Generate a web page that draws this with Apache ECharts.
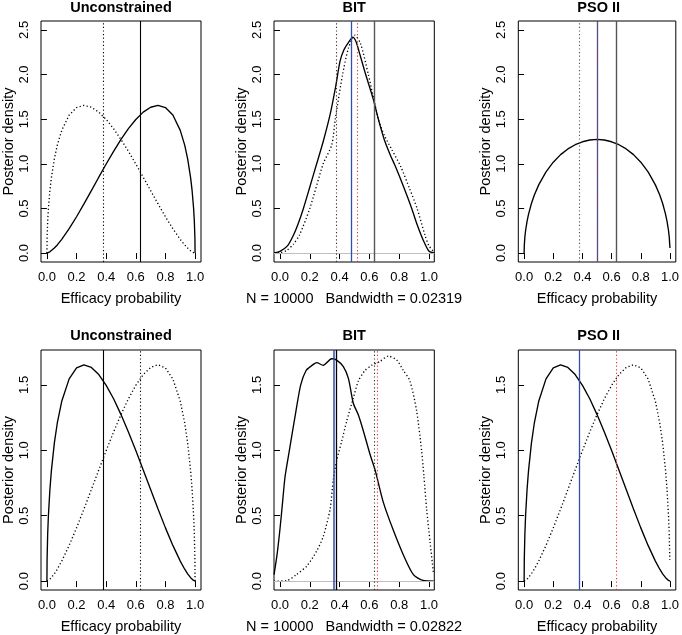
<!DOCTYPE html>
<html>
<head>
<meta charset="utf-8">
<script src="https://cdn.jsdelivr.net/npm/echarts@6/dist/echarts.min.js"></script>
<style>
html,body{margin:0;padding:0;background:#fff;}
#chart{width:682px;height:635px;}
</style>
</head>
<body>
<div id="chart"></div>
<script>
// ---------------- data ----------------
const panelTitles = ['Unconstrained', 'BIT', 'PSO II', 'Unconstrained', 'BIT', 'PSO II'];
const xAxisTitle = 'Efficacy probability';
const yAxisTitle = 'Posterior density';
const bitNotes = ['N = 10000   Bandwidth = 0.02319', 'N = 10000   Bandwidth = 0.02822'];
const xTicks = [0, 0.2, 0.4, 0.6, 0.8, 1.0];
const yTicksTop = [0, 0.5, 1.0, 1.5, 2.0, 2.5];
const yTicksBottom = [0, 0.5, 1.0, 1.5];

// posterior curves
const xBeta = [0, 0.001, 0.005, 0.01, 0.02, 0.03, 0.05, 0.07, 0.1, 0.15, 0.2, 0.25, 0.3, 0.35, 0.4, 0.45, 0.5,
  0.55, 0.6, 0.65, 0.7, 0.75, 0.8, 0.85, 0.9, 0.93, 0.95, 0.97, 0.98, 0.99, 0.995, 0.999, 1];
const densPeakHigh = [0, 0.000, 0.002, 0.005, 0.014, 0.026, 0.056, 0.091, 0.153, 0.273, 0.407, 0.551, 0.700, 0.850, 0.998, 1.140, 1.273,
  1.394, 1.497, 1.579, 1.634, 1.654, 1.630, 1.546, 1.375, 1.209, 1.055, 0.843, 0.699, 0.502, 0.357, 0.161, 0];
const densPeakLow = [0, 0.161, 0.357, 0.502, 0.699, 0.843, 1.055, 1.209, 1.375, 1.546, 1.630, 1.654, 1.634, 1.579, 1.497, 1.394, 1.273,
  1.140, 0.998, 0.850, 0.700, 0.551, 0.407, 0.273, 0.153, 0.091, 0.056, 0.026, 0.014, 0.005, 0.002, 0.000, 0];
const densSym = [0, 0.081, 0.180, 0.253, 0.356, 0.434, 0.555, 0.650, 0.764, 0.909, 1.018, 1.103, 1.167, 1.214, 1.247, 1.267, 1.273,
  1.267, 1.247, 1.214, 1.167, 1.103, 1.018, 0.909, 0.764, 0.650, 0.555, 0.434, 0.356, 0.253, 0.180, 0.081, 0.056];

// BIT kernel density estimates, top row
const xBitTopSolid = [-0.04, 0.0, 0.05, 0.09, 0.12, 0.157, 0.2, 0.246, 0.29, 0.336, 0.375, 0.403, 0.43, 0.46, 0.488,
  0.51, 0.537, 0.575, 0.625, 0.66, 0.7, 0.74, 0.772, 0.83, 0.884, 0.92, 0.96, 1.0, 1.035];
const bitTopSolid = [0.002, 0.02, 0.08, 0.2, 0.32, 0.5, 0.74, 1.0, 1.25, 1.55, 1.88, 2.15, 2.28, 2.36, 2.42,
  2.37, 2.22, 2.0, 1.73, 1.5, 1.27, 1.1, 0.98, 0.74, 0.5, 0.32, 0.15, 0.02, 0.002];
const xBitTopDotted = [-0.04, 0.0, 0.045, 0.09, 0.13, 0.2, 0.29, 0.347, 0.371, 0.42, 0.46, 0.503,
  0.54, 0.593, 0.66, 0.70, 0.75, 0.81, 0.87, 0.92, 0.973, 1.0, 1.035];
const bitTopDotted = [0.0, 0.005, 0.03, 0.1, 0.2, 0.5, 1.0, 1.21, 1.5, 2.0, 2.3, 2.44,
  2.35, 2.0, 1.5, 1.32, 1.16, 0.97, 0.72, 0.5, 0.2, 0.08, 0.01];

// BIT kernel density estimates, bottom row
const xBitBottomSolid = [-0.04, -0.02, 0.0, 0.017, 0.034, 0.063, 0.107, 0.139, 0.175, 0.21, 0.246, 0.29, 0.347, 0.38,
  0.425, 0.459, 0.492, 0.526, 0.559, 0.604, 0.638, 0.694, 0.76, 0.828, 0.895, 0.96, 1.035];
const bitBottomSolid = [0.05, 0.2, 0.4, 0.6, 0.8, 1.0, 1.3, 1.5, 1.61, 1.645, 1.67, 1.65, 1.70, 1.69,
  1.64, 1.55, 1.36, 1.27, 1.15, 0.97, 0.85, 0.6, 0.39, 0.2, 0.05, 0.005, 0.0];
const xBitBottomDotted = [-0.04, 0.045, 0.11, 0.18, 0.246, 0.29, 0.336, 0.358, 0.38, 0.414, 0.447, 0.492, 0.526,
  0.57, 0.615, 0.671, 0.727, 0.783, 0.828, 0.872, 0.917, 0.95, 0.966, 0.984, 1.007, 1.03];
const bitBottomDotted = [0.0, 0.003, 0.05, 0.115, 0.23, 0.34, 0.55, 0.78, 0.92, 1.07, 1.22, 1.40, 1.53,
  1.61, 1.65, 1.68, 1.72, 1.69, 1.61, 1.53, 1.30, 1.0, 0.8, 0.55, 0.3, 0.06];

// reference lines
const trueLow = 0.375, trueHigh = 0.625;
const bitTopMeanSolid = 0.479, bitTopMeanDotted = 0.519;
const psoTopMean = 0.5;
const bitBottomMeanSolid = 0.356, bitBottomMeanDotted = 0.646;

// ---------------- layout / style ----------------
const FONT = '"Liberation Sans", Arial, Helvetica, sans-serif';
const grids = [
  {left: 41, top: 21, width: 160, height: 241},
  {left: 274, top: 21, width: 160.3, height: 241},
  {left: 518.3, top: 21, width: 160.7, height: 241},
  {left: 41, top: 350, width: 160, height: 240.7},
  {left: 274, top: 350, width: 160.3, height: 240.7},
  {left: 518.3, top: 350, width: 160.7, height: 240.7}
];
const xRanges = [[-0.04, 1.04], [-0.0403, 1.0355], [-0.04, 1.04], [-0.04, 1.04], [-0.0403, 1.0355], [-0.04, 1.04]];
const yTop = [-0.1, 2.6], yBottom = [-0.068, 1.767];

const BLUE = '#2f4fa8', RED = '#e0303a', DOT = [1.2, 2.4];

function pairs(xs, ys) { return xs.map((x, i) => [x, ys[i]]); }
function vline(x, color, type, width) {
  return {xAxis: x, lineStyle: {color: color, type: type, width: width || 1.1}};
}
function curve(idx, data, dotted, lines, hline, smooth) {
  const mlData = (lines || []).slice();
  if (hline) mlData.unshift({yAxis: 0, lineStyle: {color: '#bebebe', type: 'solid', width: 1}});
  return {
    type: 'line', xAxisIndex: idx, yAxisIndex: idx, data: data, showSymbol: false, silent: true,
    smooth: smooth || false,
    lineStyle: {color: '#000', width: 1.35, type: dotted ? DOT : 'solid'},
    clip: true,
    markLine: mlData.length ? {silent: true, symbol: ['none', 'none'], label: {show: false}, data: mlData, animation: false} : undefined
  };
}

const xAxes = grids.map((g, i) => ({
  type: 'value', gridIndex: i, min: xRanges[i][0], max: xRanges[i][1],
  axisLine: {show: false}, splitLine: {show: false},
  axisTick: {show: true, length: 6, customValues: xTicks, lineStyle: {color: '#000', width: 1}},
  axisLabel: {customValues: xTicks, formatter: v => v.toFixed(1), fontSize: 13, color: '#000', fontFamily: FONT, margin: 9},
  name: (i === 1) ? bitNotes[0] : (i === 4 ? bitNotes[1] : xAxisTitle),
  nameLocation: 'middle', nameGap: 29,
  nameTextStyle: {fontSize: 14.5, color: '#000', fontFamily: FONT}
}));
const yAxes = grids.map((g, i) => {
  const top = i < 3;
  const ticks = top ? yTicksTop : yTicksBottom;
  const r = top ? yTop : yBottom;
  return {
    type: 'value', gridIndex: i, min: r[0], max: r[1],
    axisLine: {show: false}, splitLine: {show: false},
    axisTick: {show: true, length: 6, customValues: ticks, lineStyle: {color: '#000', width: 1}},
    axisLabel: {customValues: ticks, formatter: v => v.toFixed(1), rotate: 90, fontSize: 13, color: '#000', fontFamily: FONT, margin: 10},
    name: yAxisTitle, nameLocation: 'middle', nameRotate: 90, nameGap: 25,
    nameTextStyle: {fontSize: 14.5, color: '#000', fontFamily: FONT}
  };
});

const KDE_SMOOTH = 0.25;
const series = [
  // panel 1: Unconstrained (top)
  curve(0, pairs(xBeta, densPeakLow), true, []),
  curve(0, pairs(xBeta, densPeakHigh), false, [vline(trueLow, '#000', DOT), vline(trueHigh, '#000', 'solid')]),
  // panel 2: BIT (top)
  curve(1, pairs(xBitTopDotted, bitTopDotted), true, [], false, KDE_SMOOTH),
  curve(1, pairs(xBitTopSolid, bitTopSolid), false, [
    vline(trueLow, '#333', DOT), vline(trueHigh, '#555', 'solid', 1.4),
    vline(bitTopMeanDotted, RED, DOT), vline(bitTopMeanSolid, BLUE, 'solid', 1.3)], true, KDE_SMOOTH),
  // panel 3: PSO II (top)
  curve(2, pairs(xBeta, densSym), false, [
    vline(trueLow, '#555', DOT), vline(trueHigh, '#555', 'solid', 1.4),
    vline(psoTopMean, BLUE, 'solid', 1.3), vline(psoTopMean, RED, DOT)]),
  // panel 4: Unconstrained (bottom)
  curve(3, pairs(xBeta, densPeakHigh), true, []),
  curve(3, pairs(xBeta, densPeakLow), false, [vline(trueLow, '#000', 'solid'), vline(trueHigh, '#000', DOT)]),
  // panel 5: BIT (bottom)
  curve(4, pairs(xBitBottomDotted, bitBottomDotted), true, [], false, KDE_SMOOTH),
  curve(4, pairs(xBitBottomSolid, bitBottomSolid), false, [
    vline(trueLow, '#000', 'solid', 1.3), vline(trueHigh, '#333', DOT),
    vline(bitBottomMeanDotted, RED, DOT), vline(bitBottomMeanSolid, BLUE, 'solid', 1.5)], true, KDE_SMOOTH),
  // panel 6: PSO II (bottom)
  curve(5, pairs(xBeta, densPeakHigh).slice(0, -1), true, []),
  curve(5, pairs(xBeta, densPeakLow), false, [vline(trueHigh, RED, DOT), vline(trueLow, BLUE, 'solid', 1.3)])
];

const titleCenters = grids.map(g => g.left + g.width / 2);
const titleY = [7.5, 7.5, 7.5, 335.5, 335.5, 335.5];
const graphics = panelTitles.map((t, i) => ({
  type: 'text', x: titleCenters[i], y: titleY[i], silent: true,
  style: {text: t, fill: '#000', font: 'bold 14.5px ' + FONT, textAlign: 'center', textVerticalAlign: 'middle'}
}));

const chart = echarts.init(document.getElementById('chart'), null, {renderer: 'canvas'});
chart.setOption({
  animation: false,
  backgroundColor: '#fff',
  grid: grids.map(g => Object.assign({show: true, borderColor: '#000', borderWidth: 1, backgroundColor: 'transparent', containLabel: false}, g)),
  xAxis: xAxes,
  yAxis: yAxes,
  series: series,
  graphic: graphics
});
</script>
</body>
</html>
